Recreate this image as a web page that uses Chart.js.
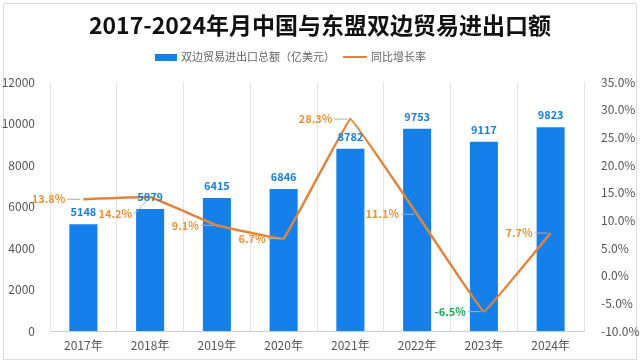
<!DOCTYPE html>
<html>
<head>
<meta charset="utf-8">
<script src="https://cdn.jsdelivr.net/npm/chart.js@4.4.1/dist/chart.umd.min.js"></script>
<style>
  html, body { margin: 0; padding: 0; background: #fff; }
  #wrap { width: 640px; height: 363px; position: relative; }
</style>
</head>
<body>
<div id="wrap"><canvas id="tradeChart" width="640" height="363"></canvas></div>
<script>
// chart data
const years = ['2017年', '2018年', '2019年', '2020年', '2021年', '2022年', '2023年', '2024年'];
const tradeTotal = [5148, 5879, 6415, 6846, 8782, 9753, 9117, 9823];
const growthRate = [13.8, 14.2, 9.1, 6.7, 28.3, 11.1, -6.5, 7.7];

const titleText = '2017-2024年月中国与东盟双边贸易进出口额';
const barLabel = '双边贸易进出口总额（亿美元）';
const lineLabel = '同比增长率';

const BLUE = '#1580ea';
const ORANGE = '#e0853e';
const CJK = '"Noto Sans CJK SC", "Noto Sans", sans-serif';

// frame, title, legend and value labels
const decorPlugin = {
  id: 'decor',
  beforeDraw(chart) {
    const ctx = chart.ctx;
    ctx.save();
    ctx.fillStyle = '#fff';
    ctx.fillRect(0, 0, chart.width, chart.height);
    ctx.strokeStyle = '#dcdcdc';
    ctx.lineWidth = 1;
    ctx.strokeRect(3.5, 3.5, chart.width - 7, chart.height - 7);
    ctx.restore();
  },
  afterDraw(chart) {
    const ctx = chart.ctx;
    ctx.save();

    // title
    ctx.fillStyle = '#111';
    ctx.font = 'bold 23px ' + CJK;
    ctx.textAlign = 'center';
    ctx.textBaseline = 'middle';
    ctx.fillText(titleText, chart.width / 2, 25);

    // legend
    ctx.font = '11px ' + CJK;
    ctx.textAlign = 'left';
    let x = 155;
    const ly = 57;
    ctx.fillStyle = BLUE;
    ctx.fillRect(x, ly - 3, 22, 7);
    x += 26;
    ctx.fillStyle = '#666';
    ctx.fillText(barLabel, x, ly);
    x += ctx.measureText(barLabel).width + 8;
    ctx.strokeStyle = ORANGE;
    ctx.lineWidth = 2;
    ctx.beginPath();
    ctx.moveTo(x, ly);
    ctx.lineTo(x + 24, ly);
    ctx.stroke();
    x += 28;
    ctx.fillText(lineLabel, x, ly);

    // bar value labels
    const bars = chart.getDatasetMeta(0).data;
    ctx.font = 'bold 11px ' + CJK;
    ctx.textAlign = 'center';
    ctx.fillStyle = '#1a7fd8';
    bars.forEach((b, i) => {
      ctx.fillText(String(tradeTotal[i]), b.x, b.y - 12);
    });

    // growth labels with leader lines; drop below when the line is flat there
    const pts = chart.getDatasetMeta(1).data;
    pts.forEach((p, i) => {
      const v = growthRate[i];
      const flat = i > 0 && Math.abs(growthRate[i - 1] - v) < 2;
      const ty = flat ? p.y + 17 : p.y;
      ctx.strokeStyle = '#b0b0b0';
      ctx.lineWidth = 1;
      ctx.beginPath();
      ctx.moveTo(p.x - 16, ty);
      ctx.lineTo(p.x - 3, flat ? p.y + 3 : p.y);
      ctx.stroke();
      ctx.textAlign = 'right';
      ctx.fillStyle = v < 0 ? '#1fa653' : '#e8913a';
      ctx.fillText(v.toFixed(1) + '%', p.x - 18, ty);
    });

    ctx.restore();
  }
};

new Chart(document.getElementById('tradeChart'), {
  data: {
    labels: years,
    datasets: [
      {
        type: 'bar',
        label: barLabel,
        data: tradeTotal,
        backgroundColor: BLUE,
        yAxisID: 'y',
        barPercentage: 0.42,
        categoryPercentage: 1,
        order: 2
      },
      {
        type: 'line',
        label: lineLabel,
        data: growthRate,
        borderColor: ORANGE,
        borderWidth: 2.5,
        pointRadius: 0,
        tension: 0.04,
        yAxisID: 'y1',
        order: 1
      }
    ]
  },
  options: {
    responsive: false,
    animation: false,
    layout: { padding: { top: 82, left: 0, right: 0, bottom: 0 } },
    plugins: {
      legend: { display: false },
      title: { display: false },
      tooltip: { enabled: false }
    },
    scales: {
      x: {
        offset: true,
        grid: { display: true, offset: true, color: '#e3e3e3', drawTicks: false },
        border: { display: true, color: '#cfcfcf' },
        ticks: { color: '#555', font: { size: 12, family: CJK }, padding: 7 },
        afterFit(scale) { scale.height = 32; }
      },
      y: {
        position: 'left',
        min: 0,
        max: 12000,
        ticks: {
          stepSize: 2000,
          color: '#555',
          font: { size: 12, family: CJK },
          padding: 7,
          callback: v => String(v)
        },
        grid: { display: false },
        border: { display: false },
        afterFit(scale) { scale.width = 50; }
      },
      y1: {
        position: 'right',
        min: -10,
        max: 35,
        ticks: {
          stepSize: 5,
          color: '#555',
          font: { size: 12, family: CJK },
          padding: 9,
          callback: v => v.toFixed(1) + '%'
        },
        grid: { display: false },
        border: { display: false },
        afterFit(scale) { scale.width = 56; }
      }
    }
  },
  plugins: [decorPlugin]
});
</script>
</body>
</html>
